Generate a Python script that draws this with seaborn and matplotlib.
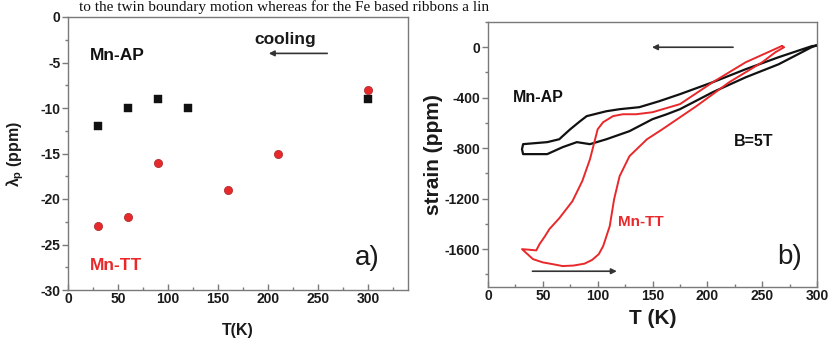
import matplotlib
matplotlib.use("Agg")
import matplotlib.pyplot as plt
import seaborn as sns
import pandas as pd
from matplotlib.ticker import MultipleLocator

# ---------------- data ----------------
# panel a) magnetostriction lambda_p vs T
ap_T = [30, 60, 90, 120, 300]
ap_lambda = [-12, -10, -9, -10, -9]
tt_T = [30, 60, 90, 160, 210, 300]
tt_lambda = [-23, -22, -16, -19, -15, -8]

# panel b) strain loops at B=5T
ap_curve_T = [300, 295, 265, 235, 205, 175, 156, 138, 120, 108, 90, 84, 75, 68, 65, 54,
              32, 31, 32, 54, 68, 81, 93, 108, 129, 150, 163, 175, 205, 235, 265, 295, 300]
ap_curve_strain = [15, 8, -79, -174, -277, -372, -428, -475, -491, -507, -546, -586, -650,
                   -705, -729, -752, -768, -808, -847, -847, -792, -752, -768, -729, -665,
                   -570, -531, -491, -356, -238, -135, 0, 15]

tt_curve_T = [268, 235, 205, 175, 150, 135, 123, 114, 105, 100, 97, 93, 86, 77, 65, 56, 52,
              47, 44, 38, 31, 41, 50, 59, 68, 78, 88, 95, 101, 105, 111, 115, 120, 129, 145,
              159, 190, 220, 250, 262, 270, 268]
tt_curve_strain = [10, -119, -277, -451, -515, -531, -531, -546, -594, -650, -752, -887,
                   -1060, -1220, -1355, -1441, -1497, -1560, -1610, -1605, -1600, -1679,
                   -1705, -1719, -1734, -1730, -1715, -1685, -1640, -1576, -1418, -1204,
                   -1022, -863, -729, -650, -467, -277, -119, -40, 0, 10]

x_ticks_a = [0, 50, 100, 150, 200, 250, 300]
y_ticks_a = [0, -5, -10, -15, -20, -25, -30]
x_ticks_b = [0, 50, 100, 150, 200, 250, 300]
y_ticks_b = [0, -400, -800, -1200, -1600]

# ---------------- style ----------------
sns.set_theme(style="ticks")
plt.rcParams['font.family'] = ['Liberation Sans', 'DejaVu Sans']
plt.rcParams['axes.unicode_minus'] = False
plt.rcParams['mathtext.fontset'] = 'custom'
plt.rcParams['mathtext.rm'] = 'Liberation Sans:bold'
plt.rcParams['mathtext.bf'] = 'Liberation Sans:bold'
plt.rcParams['mathtext.it'] = 'Liberation Sans:bold'

BLACK = '#111111'
RED = '#e8282a'
SPINE = '#7a7a7a'
TXT = '#1a1a1a'

fig = plt.figure(figsize=(8.3, 3.4), dpi=100)

fig.text(0.095, 1.0, "to the twin boundary motion whereas for the Fe based ribbons a lin",
         fontsize=11, family='Liberation Serif', va='top', ha='left', color='#111111')

def style_axes(ax):
    for s in ax.spines.values():
        s.set_color(SPINE)
        s.set_linewidth(1.0)
    ax.tick_params(axis='y', which='both', direction='out', color=SPINE, width=1.0)
    ax.tick_params(axis='x', which='both', direction='in', color=SPINE, width=1.0)
    ax.tick_params(which='major', length=4)
    ax.tick_params(which='minor', length=2.5)
    ax.tick_params(labelsize=10, labelcolor=TXT, pad=1.5)
    for lab in ax.get_xticklabels() + ax.get_yticklabels():
        lab.set_fontweight('bold')

# ---- panel a ----
axa = fig.add_axes([68 / 830, 50 / 340, 340 / 830, 273 / 340])
df_ap = pd.DataFrame({'T': ap_T, 'lam': ap_lambda})
df_tt = pd.DataFrame({'T': tt_T, 'lam': tt_lambda})
sns.scatterplot(data=df_ap, x='T', y='lam', marker='s', s=30, color=BLACK,
                edgecolor=BLACK, linewidth=0.3, ax=axa, zorder=3)
sns.scatterplot(data=df_tt, x='T', y='lam', marker='o', s=34, color=RED,
                edgecolor='#b03030', linewidth=0.6, ax=axa, zorder=3)
axa.set_xlim(0, 340)
axa.set_ylim(-30, 0)
axa.set_xticks(x_ticks_a)
axa.set_yticks(y_ticks_a)
axa.xaxis.set_minor_locator(MultipleLocator(25))
axa.yaxis.set_minor_locator(MultipleLocator(2.5))
style_axes(axa)
axa.set_xlabel('T(K)', fontsize=11.5, fontweight='bold', color=TXT, labelpad=12)
axa.set_ylabel(r'$\lambda_\mathrm{p}$ (ppm)', fontsize=11.5, fontweight='bold', color=TXT, labelpad=10)
axa.text(49, -4.2, 'Mn-AP', fontsize=12.5, fontweight='bold', color=BLACK, ha='center', va='center')
axa.text(48, -27.3, 'Mn-TT', fontsize=12.5, fontweight='bold', color=RED, ha='center', va='center')
axa.text(217, -2.5, 'cooling', fontsize=12.5, fontweight='bold', color=TXT, ha='center', va='center')
axa.annotate('', xy=(198, -4.0), xytext=(262, -4.0),
             arrowprops=dict(arrowstyle='-|>', color='#333333', lw=1.2, mutation_scale=8))
axa.text(299, -26.5, 'a)', fontsize=20, color=TXT, ha='center', va='center')

# ---- panel b ----
axb = fig.add_axes([488 / 830, 53 / 340, 329 / 830, 265 / 340])
df_apc = pd.DataFrame({'T': ap_curve_T, 'strain': ap_curve_strain, 'i': range(len(ap_curve_T))})
df_ttc = pd.DataFrame({'T': tt_curve_T, 'strain': tt_curve_strain, 'i': range(len(tt_curve_T))})
sns.lineplot(data=df_apc, x='T', y='strain', sort=False, estimator=None, color=BLACK,
             lw=1.6, ax=axb)
sns.lineplot(data=df_ttc, x='T', y='strain', sort=False, estimator=None, color=RED,
             lw=1.4, ax=axb)
axb.set_xlim(0, 300)
axb.set_ylim(-1900, 200)
axb.set_xticks(x_ticks_b)
axb.set_yticks(y_ticks_b)
axb.xaxis.set_minor_locator(MultipleLocator(25))
axb.yaxis.set_minor_locator(MultipleLocator(200))
style_axes(axb)
axb.set_xlabel('T (K)', fontsize=15, fontweight='bold', color=TXT, labelpad=4)
axb.set_ylabel('strain (ppm)', fontsize=15, fontweight='bold', color=TXT, labelpad=1)
axb.text(46, -396, 'Mn-AP', fontsize=11.5, fontweight='bold', color=BLACK, ha='center', va='center')
axb.text(242, -744, 'B=5T', fontsize=11.5, fontweight='bold', color=BLACK, ha='center', va='center')
axb.text(139, -1386, 'Mn-TT', fontsize=11, fontweight='bold', color=RED, ha='center', va='center')
axb.annotate('', xy=(147, 0), xytext=(226, 0),
             arrowprops=dict(arrowstyle='-|>', color='#333333', lw=1.2, mutation_scale=8))
axb.annotate('', xy=(120, -1775), xytext=(38, -1775),
             arrowprops=dict(arrowstyle='-|>', color='#333333', lw=1.2, mutation_scale=8))
axb.text(275, -1663, 'b)', fontsize=20, color=TXT, ha='center', va='center')

fig.savefig('out.png', dpi=100)
